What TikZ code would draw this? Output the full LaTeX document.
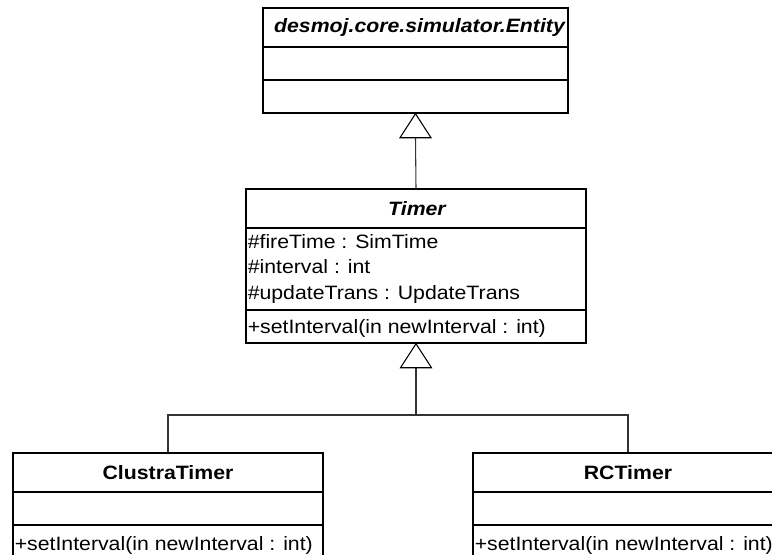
\documentclass[tikz,border=0pt]{standalone}
\usepackage{fontspec}
\setmainfont{Liberation Sans}[FakeStretch=1.1]
\begin{document}
\begin{tikzpicture}[x=0.75pt,y=-0.75pt,
  classbox/.style={draw,line width=1.1pt,inner sep=0pt,fill=white},
  divider/.style={line width=1.1pt},
  title/.style={font=\fontsize{14.5}{17}\selectfont\bfseries,inner sep=0pt},
  abstitle/.style={title,font=\fontsize{14.5}{17}\selectfont\bfseries\itshape},
  member/.style={font=\fontsize{14.5}{17}\selectfont,inner sep=0pt,anchor=base west},
  link/.style={line width=0.8pt,draw=black!80},
  gen/.style={line width=0.8pt,draw=black,fill=white}]
\useasboundingbox (0,0) rectangle (772,554);
\clip (0,0) rectangle (772,554);

% desmoj.core.simulator.Entity
\node[classbox,minimum width=305*0.75pt,minimum height=105*0.75pt] (entity) at (415.5,60.5) {};
\draw[divider] (entity.west |- 0,47) -- (entity.east |- 0,47);
\draw[divider] (entity.west |- 0,80) -- (entity.east |- 0,80);
\node[abstitle] (entityname) at (419.5,27.5) {desmoj.core.simulator.Entity};

% Timer
\node[classbox,minimum width=340*0.75pt,minimum height=154*0.75pt] (timer) at (416,266) {};
\draw[divider] (timer.west |- 0,228) -- (timer.east |- 0,228);
\draw[divider] (timer.west |- 0,310) -- (timer.east |- 0,310);
\node[abstitle] (timername) at (417,208.5) {Timer};
\node[member] (attrfire) at (247.5,248) {\#fireTime : SimTime};
\node[member] (attrinterval) at (247.5,273) {\#interval : int};
\node[member] (attrupdate) at (247.5,299) {\#updateTrans : UpdateTrans};
\node[member] (timerops) at (247.5,333) {+setInterval(in newInterval : int)};

% ClustraTimer
\node[classbox,minimum width=310*0.75pt,minimum height=120*0.75pt] (clustra) at (168,513) {};
\draw[divider] (clustra.west |- 0,492) -- (clustra.east |- 0,492);
\draw[divider] (clustra.west |- 0,525) -- (clustra.east |- 0,525);
\node[title] (clustraname) at (168,473) {ClustraTimer};
\node[member] (clustraops) at (14.5,550) {+setInterval(in newInterval : int)};

% RCTimer
\node[classbox,minimum width=310*0.75pt,minimum height=120*0.75pt] (rc) at (628,513) {};
\draw[divider] (rc.west |- 0,492) -- (rc.east |- 0,492);
\draw[divider] (rc.west |- 0,525) -- (rc.east |- 0,525);
\node[title] (rcname) at (628,473) {RCTimer};
\node[member] (rcops) at (474.5,550) {+setInterval(in newInterval : int)};

% Timer --|> Entity
\coordinate (genA) at ([yshift=-24*0.75pt]entity.south);
\draw[link] (timer.north) -- (genA);
\draw[gen] (entity.south) -- ([xshift=-15.5*0.75pt]genA) -- ([xshift=15.5*0.75pt]genA) -- cycle;

% ClustraTimer, RCTimer --|> Timer
\coordinate (genB) at ([yshift=-24*0.75pt]timer.south);
\coordinate (fork) at (416,415);
\draw[link] (genB) -- (fork);
\draw[link] (clustra.north) |- (fork) -| (rc.north);
\draw[gen] (timer.south) -- ([xshift=-15.5*0.75pt]genB) -- ([xshift=15.5*0.75pt]genB) -- cycle;
\end{tikzpicture}
\end{document}
